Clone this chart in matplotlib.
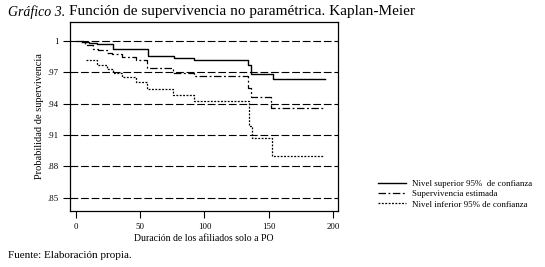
import matplotlib.pyplot as plt

plt.rcParams['font.family'] = ['Liberation Serif', 'DejaVu Serif']

# Datos (tiempo en que empieza cada escalón, valor del escalón)
t_superior = [5, 10, 16, 29, 56, 76, 92, 134, 136, 153]
v_superior = [0.9986, 0.9977, 0.9968, 0.9923, 0.9852, 0.9834, 0.9816, 0.977, 0.9684, 0.9633]
fin_superior = 194

t_estimada = [0, 7, 13.5, 17, 24, 28, 35.5, 46.5, 55.5, 75.5, 91.5, 134, 136.5, 151.5]
v_estimada = [1.0, 0.9962, 0.9923, 0.9914, 0.9888, 0.9876, 0.985, 0.9818, 0.9739, 0.9697,
              0.9668, 0.955, 0.9461, 0.9356]
fin_estimada = 193

t_inferior = [8, 16, 24, 29, 35.5, 46.5, 55.5, 75.5, 92, 135, 136.7, 152.5]
v_inferior = [0.9818, 0.977, 0.9729, 0.9697, 0.9653, 0.961, 0.9538, 0.9483, 0.9428,
              0.919, 0.9075, 0.89]
fin_inferior = 192.5

ticks_y = [0.85, 0.88, 0.91, 0.94, 0.97, 1.0]
etiquetas_y = ['.85', '.88', '.91', '.94', '.97', '1']
ticks_x = [0, 50, 100, 150, 200]

fig = plt.figure(figsize=(5.45, 2.67), dpi=100)
ax = fig.add_axes([70 / 545, 1 - 211 / 267, 268 / 545, 189 / 267])


def escalones(t, v, fin):
    return t + [fin], v + [v[-1]]


x, y = escalones(t_superior, v_superior, fin_superior)
ax.step(x, y, where='post', color='black', lw=1.0, label='Nivel superior 95%  de confianza')
x, y = escalones(t_estimada, v_estimada, fin_estimada)
ax.step(x, y, where='post', color='black', lw=0.9, linestyle=(0, (6, 2, 1.5, 2)),
        label='Supervivencia estimada')
x, y = escalones(t_inferior, v_inferior, fin_inferior)
ax.step(x, y, where='post', color='black', lw=0.9, linestyle=(0, (1.5, 1.2)),
        label='Nivel inferior 95% de confianza')

ax.set_xlim(-4.7, 204)
ax.set_ylim(0.8373, 1.0182)
ax.set_xticks(ticks_x)
ax.set_yticks(ticks_y)
ax.set_yticklabels(etiquetas_y)
ax.tick_params(direction='out', length=5, width=0.8, labelsize=6.3, colors='black')
ax.grid(axis='y', color='black', linestyle=(0, (7, 2.5)), lw=0.8)
ax.grid(axis='x', visible=False)
for s in ax.spines.values():
    s.set_linewidth(0.9)

ax.set_ylabel('Probabilidad de supervivencia', fontsize=7.5, labelpad=2)
ax.set_xlabel('Duración de los afiliados solo a PO', fontsize=7, labelpad=2)

fig.text(8 / 545, 1 - 12 / 267, 'Gráfico 3.', fontsize=10, style='italic', va='center')
fig.text(69 / 545, 1 - 12 / 267, 'Función de supervivencia no paramétrica. Kaplan-Meier',
         fontsize=11, va='center')
fig.text(8 / 545, 1 - 255 / 267, 'Fuente: Elaboración propia.', fontsize=8, va='center')

fig.legend(loc='upper left', bbox_to_anchor=(378 / 545, 1 - 180 / 267), frameon=False,
           fontsize=6.4, handlelength=3.2, handletextpad=0.6, labelspacing=0.22,
           borderpad=0, borderaxespad=0)

fig.savefig('out.png', dpi=100)
